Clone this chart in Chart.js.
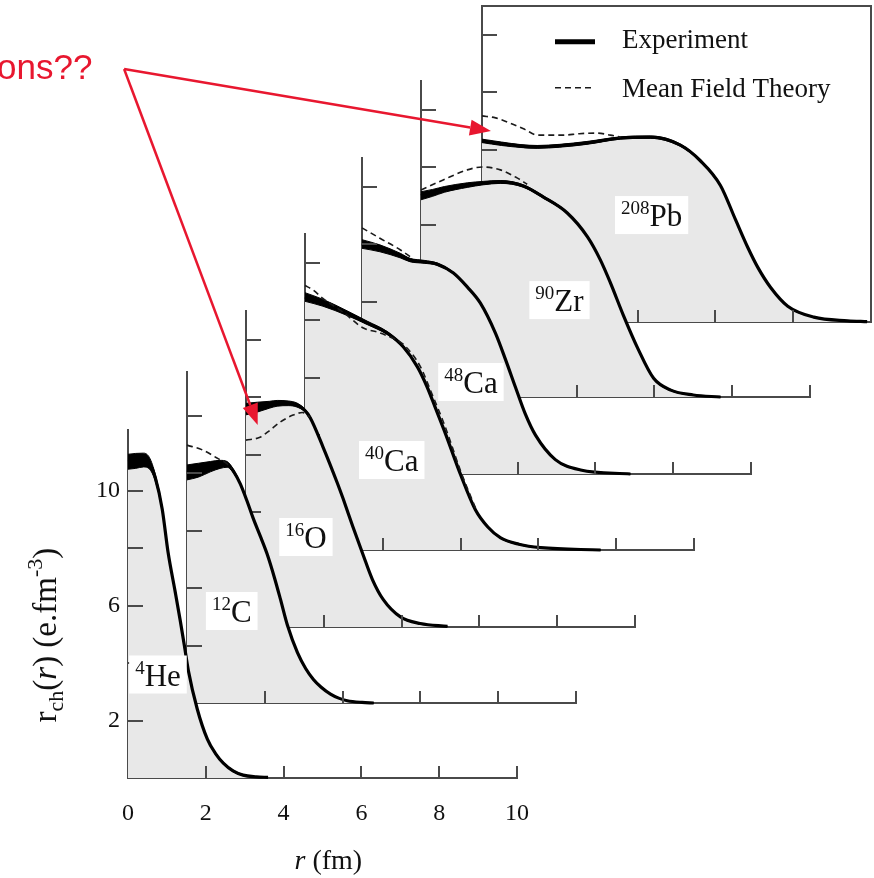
<!DOCTYPE html>
<html>
<head>
<meta charset="utf-8">
<script src="https://cdn.jsdelivr.net/npm/chart.js@4.4.1/dist/chart.umd.min.js"></script>
<style>
  html, body { margin:0; padding:0; background:#ffffff; }
  #stage { position:relative; width:874px; height:878px; overflow:hidden; background:#fff; }
  #stage canvas { position:absolute; left:0; top:0; }
</style>
</head>
<body>
<div id="stage"></div>
<script>
// ================= DATA =================
const nucleusSymbols = ['He', 'C', 'O', 'Ca', 'Ca', 'Zr', 'Pb'];
const massNumbers    = ['4', '12', '16', '40', '48', '90', '208'];
const yTickLabels    = ['2', '6', '10'];
const legendLabels   = ['Experiment', 'Mean Field Theory'];

// 4He
const heR   = [0, 0.2, 0.4, 0.55, 0.7, 0.88, 1.03, 1.21, 1.34, 1.45, 1.55, 1.78, 2.04, 2.25, 2.45, 2.7, 2.96, 3.3, 3.6];
const heExp = [11.0, 11.03, 11.06, 10.95, 10.45, 9.35, 7.85, 6.5, 5.5, 4.6, 3.75, 2.4, 1.35, 0.85, 0.52, 0.25, 0.1, 0.04, 0.02];
const heErr = [0.26, 0.26, 0.24, 0.2, 0.12, 0.06, 0.04, 0.03, 0.03, 0.03, 0.03, 0.03, 0.03, 0.03, 0.03, 0.03, 0.02, 0.01, 0.0];
const heMfR = [];
const heMf  = [];
// 12C
const cR   = [0, 0.3, 0.6, 0.85, 1.03, 1.2, 1.37, 1.55, 1.7, 1.9, 2.06, 2.25, 2.4, 2.58, 2.84, 3.05, 3.25, 3.45, 3.69, 3.9, 4.12, 4.5, 4.8];
const cExp = [8.02, 8.1, 8.22, 8.3, 8.3, 8.05, 7.62, 7.0, 6.43, 5.75, 5.18, 4.35, 3.62, 2.71, 1.75, 1.2, 0.82, 0.55, 0.31, 0.17, 0.08, 0.02, 0.0];
const cErr = [0.26, 0.24, 0.18, 0.14, 0.1, 0.06, 0.04, 0.03, 0.03, 0.03, 0.03, 0.03, 0.03, 0.03, 0.03, 0.03, 0.03, 0.02, 0.02, 0.01, 0.01, 0.0, 0.0];
const cMfR = [0, 0.4, 0.8, 1.0, 1.15];
const cMf  = [8.97, 8.8, 8.5, 8.35, 8.15];
// 16O
const oR   = [0, 0.3, 0.6, 0.8, 1.1, 1.31, 1.5, 1.65, 1.98, 2.35, 2.5, 2.75, 3.0, 3.25, 3.53, 3.97, 4.48, 5.18];
const oExp = [7.58, 7.65, 7.73, 7.78, 7.78, 7.72, 7.55, 7.28, 6.26, 5.0, 4.45, 3.48, 2.55, 1.65, 0.95, 0.35, 0.12, 0.02];
const oErr = [0.2, 0.17, 0.12, 0.1, 0.08, 0.07, 0.05, 0.04, 0.03, 0.03, 0.03, 0.03, 0.03, 0.03, 0.02, 0.02, 0.01, 0.0];
const oMfR = [0, 0.36, 0.62, 0.88, 1.21, 1.45, 1.65];
const oMf  = [6.5, 6.6, 6.85, 7.13, 7.37, 7.46, 7.3];
// 40Ca
const ca40R   = [0, 0.46, 1.08, 1.6, 2.11, 2.53, 2.89, 3.14, 3.35, 3.61, 4.0, 4.38, 4.7, 5.03, 5.5, 6.06, 7.6];
const ca40Exp = [8.8, 8.6, 8.24, 7.9, 7.55, 7.06, 6.37, 5.67, 4.95, 4.05, 2.62, 1.4, 0.8, 0.42, 0.2, 0.08, 0.0];
const ca40Err = [0.15, 0.12, 0.08, 0.06, 0.05, 0.04, 0.03, 0.03, 0.03, 0.03, 0.03, 0.03, 0.02, 0.02, 0.02, 0.01, 0.0];
const ca40MfR = [0, 0.2, 0.46, 1.0, 1.5, 1.86, 2.2, 2.53, 2.97, 3.22, 3.6, 4.0, 4.4];
const ca40Mf  = [9.2, 9.05, 8.75, 8.25, 7.72, 7.58, 7.4, 7.15, 6.37, 5.57, 4.3, 2.75, 1.4];
// 48Ca
const ca48R   = [0, 0.46, 0.98, 1.24, 1.6, 1.93, 2.35, 2.71, 3.04, 3.43, 3.69, 3.95, 4.2, 4.46, 4.97, 5.62, 6.9];
const ca48Exp = [8.0, 7.85, 7.6, 7.44, 7.38, 7.3, 6.99, 6.5, 5.95, 4.9, 3.98, 3.0, 2.08, 1.35, 0.5, 0.14, 0.0];
const ca48Err = [0.15, 0.12, 0.08, 0.06, 0.05, 0.04, 0.03, 0.03, 0.03, 0.03, 0.03, 0.03, 0.03, 0.02, 0.02, 0.01, 0.0];
const ca48MfR = [0, 0.46, 0.98, 1.3];
const ca48Mf  = [8.56, 8.2, 7.8, 7.5];
// 90Zr
const zrR   = [0, 0.3, 0.6, 1.19, 1.6, 2.04, 2.63, 3.14, 3.76, 4.28, 4.61, 4.87, 5.2, 5.57, 5.98, 6.42, 7.0, 7.7];
const zrExp = [7.0, 7.1, 7.22, 7.37, 7.44, 7.48, 7.34, 6.96, 6.4, 5.57, 4.77, 3.97, 2.85, 1.7, 0.65, 0.24, 0.07, 0.0];
const zrErr = [0.14, 0.12, 0.1, 0.08, 0.06, 0.05, 0.04, 0.04, 0.03, 0.03, 0.03, 0.03, 0.03, 0.03, 0.02, 0.02, 0.01, 0.0];
const zrMfR = [0, 0.57, 1.19, 1.57, 2.04, 2.47, 2.73];
const zrMf  = [7.2, 7.55, 7.9, 8.0, 7.9, 7.62, 7.4];
// 208Pb
const pbR   = [0, 0.5, 1.0, 1.42, 2.0, 2.7, 3.56, 4.33, 5.1, 5.62, 6.13, 6.52, 6.83, 7.09, 7.42, 7.86, 8.53, 9.4, 9.9];
const pbExp = [6.3, 6.2, 6.12, 6.09, 6.13, 6.23, 6.4, 6.43, 6.15, 5.6, 4.75, 3.55, 2.6, 1.9, 1.2, 0.55, 0.17, 0.04, 0.01];
const pbErr = [0.06, 0.06, 0.05, 0.05, 0.05, 0.05, 0.04, 0.04, 0.04, 0.03, 0.03, 0.03, 0.03, 0.03, 0.02, 0.02, 0.01, 0.0, 0.0];
const pbMfR = [0, 0.35, 0.72, 1.1, 1.42, 2.09, 2.5, 2.96, 3.3, 3.56];
const pbMf  = [7.17, 7.1, 6.92, 6.7, 6.5, 6.5, 6.55, 6.57, 6.5, 6.43];

const series = [
  { R: heR,   exp: heExp,   err: heErr,   mfR: heMfR,   mf: heMf },
  { R: cR,    exp: cExp,    err: cErr,    mfR: cMfR,    mf: cMf },
  { R: oR,    exp: oExp,    err: oErr,    mfR: oMfR,    mf: oMf },
  { R: ca40R, exp: ca40Exp, err: ca40Err, mfR: ca40MfR, mf: ca40Mf },
  { R: ca48R, exp: ca48Exp, err: ca48Err, mfR: ca48MfR, mf: ca48Mf },
  { R: zrR,   exp: zrExp,   err: zrErr,   mfR: zrMfR,   mf: zrMf },
  { R: pbR,   exp: pbExp,   err: pbErr,   mfR: pbMfR,   mf: pbMf }
];

// ================= LAYOUT / STYLE =================
const W = 874, H = 878;
const ORIGIN_X = [128, 187, 246, 305, 362, 421, 482];
const ORIGIN_Y = [778, 703, 627, 550, 474, 397, 322];
const Y_MAX    = [12.1, 11.5, 11, 11, 11, 11, 11];
const AREA_W   = 389;      // pixel width of 0..10 fm
const PX_PER_UNIT = 28.75; // pixel per density unit
const LABEL_R   = [0.77, 1.15, 1.54, 2.23, 2.8, 3.56, 4.36];
const LABEL_RHO = [3.6, 3.2, 3.13, 3.13, 3.2, 3.37, 3.72];
const SERIF = '"Liberation Serif", "Times New Roman", Times, serif';
const SANS  = '"Liberation Sans", Arial, Helvetica, sans-serif';
const AXIS  = '#4a4a4a';
const FILL  = '#e8e8e8';
const RED   = '#e8172f';

Chart.defaults.animation = false;

function pts(R, V) { return R.map((r, i) => ({ x: r, y: V[i] })); }

function buildDatasets(s) {
  const common = { pointRadius: 0, pointHoverRadius: 0, clip: false, cubicInterpolationMode: 'monotone' };
  const ds = [
    Object.assign({ label: 'area', data: pts(s.R, s.exp), borderWidth: 0, borderColor: FILL, backgroundColor: FILL, fill: 'origin', order: 6 }, common),
    Object.assign({ label: 'upper', data: pts(s.R, s.exp.map((v, i) => v + s.err[i])), borderWidth: 1, borderColor: '#000', backgroundColor: '#000', fill: '+1', order: 4 }, common),
    Object.assign({ label: 'lower', data: pts(s.R, s.exp.map((v, i) => Math.max(0, v - s.err[i]))), borderWidth: 1, borderColor: '#000', fill: false, order: 4 }, common),
    Object.assign({ label: legendLabels[0], data: pts(s.R, s.exp), borderWidth: 3.2, borderColor: '#000', fill: false, order: 2 }, common)
  ];
  if (s.mf.length) {
    ds.push(Object.assign({ label: legendLabels[1], data: pts(s.mfR, s.mf), borderWidth: 1.6, borderColor: '#1a1a1a', borderDash: [6, 4], fill: false, order: 1 }, common));
  }
  return ds;
}

function richWidth(ctx, parts) {
  let w = 0;
  parts.forEach(p => { ctx.font = (p.italic ? 'italic ' : '') + p.size + 'px ' + (p.family || SERIF); w += ctx.measureText(p.t).width; });
  return w;
}
function drawRich(ctx, parts, x, y) {
  let cx = x;
  parts.forEach(p => {
    ctx.font = (p.italic ? 'italic ' : '') + p.size + 'px ' + (p.family || SERIF);
    ctx.fillText(p.t, cx, y + (p.dy || 0));
    cx += ctx.measureText(p.t).width;
  });
}
function seg(ctx, x0, y0, x1, y1) { ctx.beginPath(); ctx.moveTo(x0, y0); ctx.lineTo(x1, y1); ctx.stroke(); }
function arrow(ctx, x0, y0, x1, y1) {
  const ang = Math.atan2(y1 - y0, x1 - x0), L = 21, HW = 8;
  const bx = x1 - L * Math.cos(ang), by = y1 - L * Math.sin(ang);
  seg(ctx, x0, y0, bx, by);
  ctx.beginPath();
  ctx.moveTo(x1, y1);
  ctx.lineTo(bx + HW * Math.sin(ang), by - HW * Math.cos(ang));
  ctx.lineTo(bx - HW * Math.sin(ang), by + HW * Math.cos(ang));
  ctx.closePath(); ctx.fill();
}

const charts = [];

function decoPlugin(i) {
  return {
    id: 'deco' + i,
    afterDraw(chart) {
      const ctx = chart.ctx, xs = chart.scales.x, ys = chart.scales.y, a = chart.chartArea;
      ctx.save();
      // inward tick marks
      ctx.strokeStyle = AXIS; ctx.lineWidth = 2;
      ys.ticks.forEach(t => {
        if (t.value > 0 && t.value % 2 === 0) { const y = Math.round(ys.getPixelForValue(t.value)); seg(ctx, a.left, y, a.left + 15, y); }
      });
      xs.ticks.forEach(t => {
        if (t.value > 0) { const x = Math.round(xs.getPixelForValue(t.value)); seg(ctx, x, a.bottom, x, a.bottom - 12); }
      });
      // nucleus label with white box
      const parts = [{ t: massNumbers[i], size: 19, dy: -12 }, { t: nucleusSymbols[i], size: 31 }];
      const tw = richWidth(ctx, parts);
      const cx = xs.getPixelForValue(LABEL_R[i]), cy = ys.getPixelForValue(LABEL_RHO[i]);
      ctx.fillStyle = '#fff';
      ctx.fillRect(cx - tw / 2 - 6, cy - 19, tw + 12, 38);
      ctx.fillStyle = '#111'; ctx.textBaseline = 'alphabetic'; ctx.textAlign = 'left';
      drawRich(ctx, parts, cx - tw / 2, cy + 11);

      if (i === 6) {
        // legend inside the box
        const lx = a.left + 73;
        ctx.strokeStyle = '#000'; ctx.lineWidth = 5;
        seg(ctx, lx, a.top + 36, lx + 40, a.top + 36);
        ctx.lineWidth = 1.6; ctx.setLineDash([6, 4]); ctx.strokeStyle = '#1a1a1a';
        seg(ctx, lx, a.top + 82, lx + 38, a.top + 82);
        ctx.setLineDash([]);
        ctx.fillStyle = '#111'; ctx.font = '27px ' + SERIF;
        ctx.fillText(legendLabels[0], a.left + 140, a.top + 42);
        ctx.fillText(legendLabels[1], a.left + 140, a.top + 91);
      }

      if (i === 0) {
        // axis titles
        ctx.fillStyle = '#111';
        const xt = [{ t: 'r', size: 28, italic: true }, { t: ' (fm)', size: 28 }];
        const xw = richWidth(ctx, xt);
        drawRich(ctx, xt, xs.getPixelForValue(5.15) - xw / 2, a.bottom + 91);
        const yt = [{ t: 'r', size: 33 }, { t: 'ch', size: 22, dy: 7 }, { t: '(', size: 33 }, { t: 'r', size: 33, italic: true },
                    { t: ') (e.fm', size: 33 }, { t: '-3', size: 22, dy: -14 }, { t: ')', size: 33 }];
        const yw = richWidth(ctx, yt);
        ctx.save();
        ctx.translate(a.left - 72, ys.getPixelForValue(4.97));
        ctx.rotate(-Math.PI / 2);
        drawRich(ctx, yt, -yw / 2, 0);
        ctx.restore();

        // red annotation
        const pb = charts[6], ox = charts[2];
        ctx.fillStyle = RED; ctx.strokeStyle = RED; ctx.lineWidth = 2.5;
        ctx.font = '35px ' + SANS;
        ctx.fillText('ons??', -3, 79);
        const sx = xs.getPixelForValue(-0.1), sy = ys.getPixelForValue(24.66);
        arrow(ctx, sx, sy, pb.scales.x.getPixelForValue(0.23), pb.scales.y.getPixelForValue(6.64));
        arrow(ctx, sx, sy, ox.scales.x.getPixelForValue(0.3), ox.scales.y.getPixelForValue(7.03));
      }
      ctx.restore();
    }
  };
}

function buildChart(i) {
  const canvas = document.createElement('canvas');
  canvas.width = W; canvas.height = H;
  canvas.style.width = W + 'px'; canvas.style.height = H + 'px';
  document.getElementById('stage').appendChild(canvas);
  const isHe = i === 0, isPb = i === 6;
  const ox = ORIGIN_X[i], oy = ORIGIN_Y[i];
  const areaH = Y_MAX[i] * PX_PER_UNIT;
  const yW = isHe ? 70 : 0, xH = isHe ? 50 : 0;
  const hiddenAxis = (pos, horiz) => ({
    type: 'linear', position: pos, display: true, z: 1,
    min: 0, max: horiz ? 10 : Y_MAX[i],
    ticks: { display: false }, grid: { display: true, drawOnChartArea: false, drawTicks: false },
    border: { display: true, color: AXIS, width: 2 },
    afterFit: s => { if (horiz) s.height = 0; else s.width = 0; s.paddingLeft = s.paddingRight = s.paddingTop = s.paddingBottom = 0; }
  });
  const scales = {
    x: {
      type: 'linear', position: 'bottom', min: 0, max: 10, z: 1,
      ticks: { display: isHe, stepSize: 2, autoSkip: false, maxRotation: 0, padding: 21, color: '#111', font: { family: SERIF, size: 24 } },
      grid: { display: true, drawOnChartArea: false, drawTicks: false },
      border: { display: true, color: AXIS, width: 2 },
      afterFit: s => { s.height = xH; s.paddingLeft = 0; s.paddingRight = 0; }
    },
    y: {
      type: 'linear', position: 'left', min: 0, max: Y_MAX[i], z: 1,
      ticks: { display: isHe, stepSize: 2, autoSkip: false, padding: 8, color: '#111', font: { family: SERIF, size: 24 },
               callback: v => yTickLabels.includes(String(v)) ? String(v) : '' },
      grid: { display: true, drawOnChartArea: false, drawTicks: false },
      border: { display: true, color: AXIS, width: 2 },
      afterFit: s => { s.width = yW; s.paddingTop = 0; s.paddingBottom = 0; }
    }
  };
  if (isPb) { scales.x2 = hiddenAxis('top', true); scales.y2 = hiddenAxis('right', false); }
  const chart = new Chart(canvas, {
    type: 'line',
    data: { datasets: buildDatasets(series[i]) },
    options: {
      responsive: false, maintainAspectRatio: false, animation: false, devicePixelRatio: 1,
      layout: { padding: { left: ox - yW, right: W - ox - AREA_W, top: oy - areaH, bottom: H - oy - xH } },
      scales,
      plugins: { legend: { display: false }, tooltip: { enabled: false }, title: { display: false } },
      events: []
    },
    plugins: [decoPlugin(i)]
  });
  charts[i] = chart;
}

// back (208Pb) to front (4He)
for (let i = 6; i >= 0; i--) buildChart(i);
</script>
</body>
</html>
